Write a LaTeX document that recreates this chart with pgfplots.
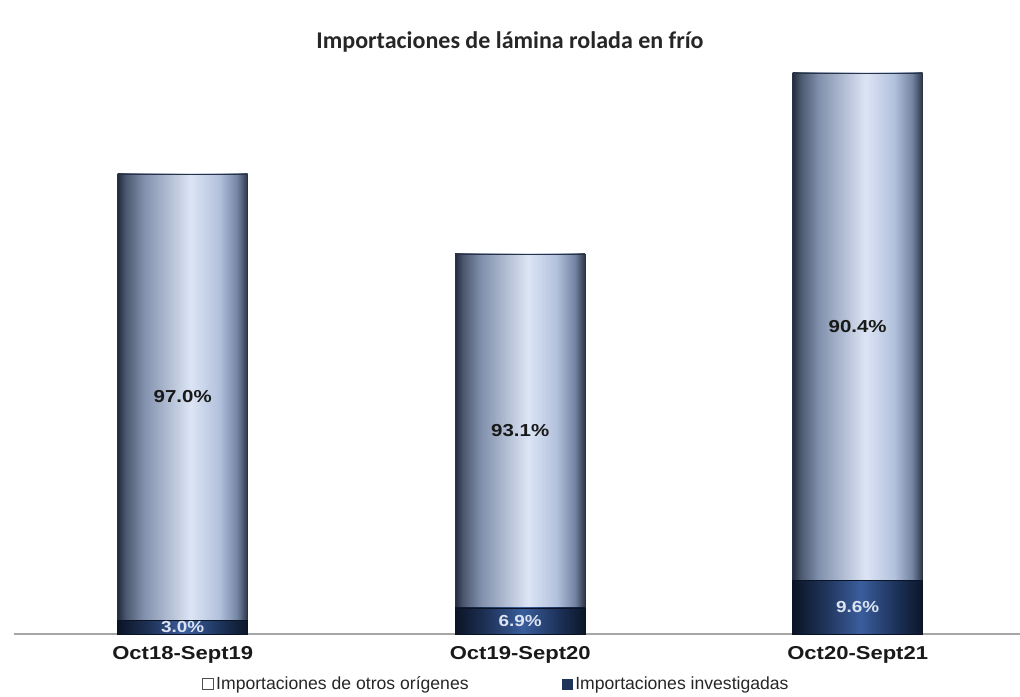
\documentclass[border=0pt]{standalone}
\usepackage{pgfplots}
\pgfplotsset{compat=1.18}
\usepackage{fontspec}
\setmainfont{Liberation Sans}
\newfontfamily\titlefont{Carlito}
\newfontfamily\widefont[FakeStretch=1.18]{Liberation Sans}

\definecolor{ta}{HTML}{232C3D}
\definecolor{tb}{HTML}{4A576F}
\definecolor{tc}{HTML}{8190AC}
\definecolor{td}{HTML}{DCE5F5}
\definecolor{te}{HTML}{B2C1DC}
\definecolor{tf}{HTML}{7384A2}
\definecolor{tg}{HTML}{2A3344}
\definecolor{ba}{HTML}{0B1426}
\definecolor{bb}{HTML}{1B2D4F}
\definecolor{bc}{HTML}{3A5D9C}
\definecolor{bd}{HTML}{1C3158}
\definecolor{be}{HTML}{0C1628}
\definecolor{navyD}{HTML}{1E3358}
\definecolor{lablight}{HTML}{DCE4F2}

\pgfdeclarehorizontalshading{topshade}{100bp}{color(0bp)=(ta); color(25bp)=(ta); color(28bp)=(tb); color(35bp)=(tc); color(53bp)=(td); color(64bp)=(te); color(71bp)=(tf); color(75bp)=(tg); color(100bp)=(tg)}
\pgfdeclarehorizontalshading{botshade}{100bp}{color(0bp)=(ba); color(25bp)=(ba); color(35bp)=(bb); color(51bp)=(bc); color(65bp)=(bd); color(75bp)=(be); color(100bp)=(be)}

\pgfplotsset{
  topbar/.style={ybar, bar width=97.5pt, bar shift=0pt, shade, shading=topshade, draw=tg, line width=0.6pt, forget plot},
  botbar/.style={ybar, bar width=97.5pt, bar shift=0pt, shade, shading=botshade, draw=ba, line width=0.4pt, forget plot},
}

\begin{document}
\begin{tikzpicture}
\useasboundingbox (0,0) rectangle (765pt,522pt);
\node[font=\titlefont\bfseries\fontsize{18}{20}\selectfont, text=black!85] at (382.5pt,490.5pt) {Importaciones de lámina rolada en frío};
\begin{axis}[
  at={(10.5pt,46.5pt)}, anchor=south west,
  scale only axis, width=754.5pt, height=450pt,
  xmin=-0.5, xmax=2.481, ymin=0, ymax=600,
  axis x line*=bottom, axis y line=none,
  x axis line style={draw=black!35, line width=1pt, -},
  xtick={0,1,2},
  xticklabels={Oct18-Sept19, Oct19-Sept20, Oct20-Sept21},
  major x tick style={draw=none},
  extra x ticks={0.5,1.5}, extra x tick labels={},
  extra x tick style={tick style={draw=black!45, line width=1pt}, major tick length=5pt, tick align=outside},
  xticklabel style={font=\widefont\bfseries\fontsize{14}{16}\selectfont, text=black!90, yshift=-6pt},
  clip=false,
  legend style={at={(0.183,-0.0833)}, anchor=west, draw=none, fill=none,
    legend columns=2, font=\fontsize{13.2}{15}\selectfont, text=black!85,
    /tikz/column 2/.style={column sep=68pt}},
]
\addlegendimage{legend image code/.code={\draw[draw=black!70, fill=white, line width=0.8pt] (0pt,-3.8pt) rectangle (7.6pt,3.8pt);}}
\addlegendentry{Importaciones de otros orígenes}
\addlegendimage{legend image code/.code={\draw[draw=navyD, fill=navyD] (0pt,-3.8pt) rectangle (7.6pt,3.8pt);}}
\addlegendentry{Importaciones investigadas}

% total bars (otros orígenes on top of investigadas)
\addplot[topbar] coordinates {(0,460)};
\addplot[topbar] coordinates {(1,380)};
\addplot[topbar] coordinates {(2,561)};
% investigadas
\addplot[botbar] coordinates {(0,13.8)};
\addplot[botbar] coordinates {(1,26.2)};
\addplot[botbar] coordinates {(2,53.9)};

% labels
\addplot[draw=none, mark=none, forget plot, nodes near coords, point meta=explicit symbolic,
  every node near coord/.style={anchor=center, font=\widefont\bfseries\fontsize{13}{15}\selectfont, text=black!90}]
  coordinates {(0,237)[97.0\%] (1,203)[93.1\%] (2,307)[90.4\%]};
\addplot[draw=none, mark=none, forget plot, nodes near coords, point meta=explicit symbolic,
  every node near coord/.style={anchor=center, font=\widefont\bfseries\fontsize{12}{14}\selectfont, text=lablight}]
  coordinates {(0,6.9)[3.0\%] (1,13.1)[6.9\%] (2,27)[9.6\%]};
\end{axis}
\end{tikzpicture}
\end{document}
